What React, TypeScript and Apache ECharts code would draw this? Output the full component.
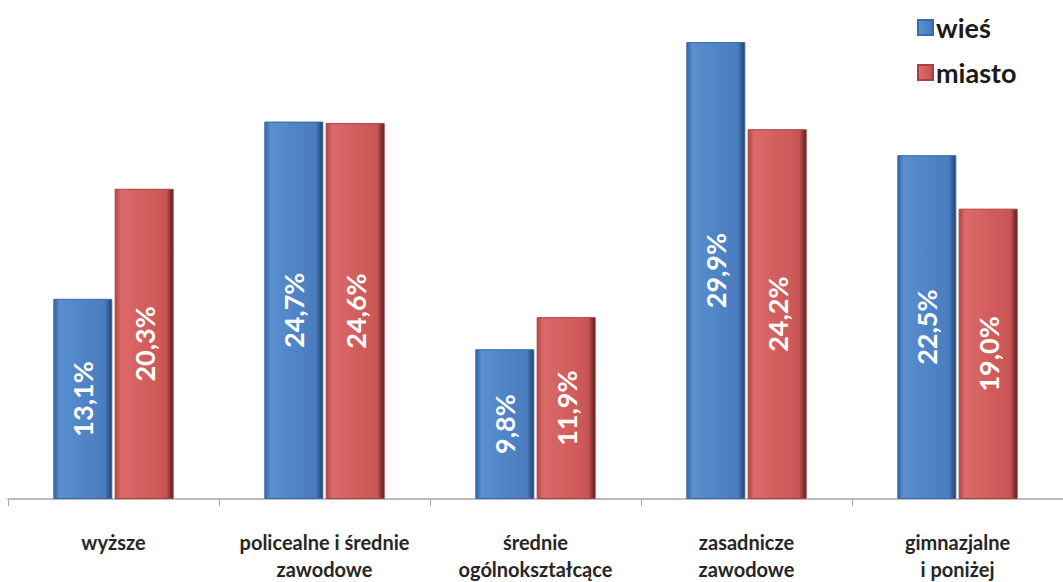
import React, { useEffect, useRef } from "react";
import * as echarts from "echarts";

const categories = [
  "wyższe",
  "policealne i średnie\nzawodowe",
  "średnie\nogólnokształcące",
  "zasadnicze\nzawodowe",
  "gimnazjalne\ni poniżej",
];
const wiesValues = [13.1, 24.7, 9.8, 29.9, 22.5];
const miastoValues = [20.3, 24.6, 11.9, 24.2, 19.0];
const seriesNames = ["wieś", "miasto"];

const fmt = (v: number) => v.toFixed(1).replace(".", ",") + "%";

const grad = (stops: [number, string][]) =>
  new echarts.graphic.LinearGradient(
    0,
    0,
    1,
    0,
    stops.map(([offset, color]) => ({ offset, color }))
  );

export default function App() {
  const ref = useRef<HTMLDivElement>(null);
  useEffect(() => {
    if (!ref.current) return;
    const chart = echarts.init(ref.current, null, { renderer: "svg" });
    const font = "Lato, 'Open Sans', sans-serif";
    const label = {
      show: true,
      position: "inside" as const,
      rotate: 90,
      color: "#ffffff",
      fontSize: 27,
      fontWeight: "bold" as const,
      fontFamily: font,
      formatter: (p: any) => fmt(p.value),
    };
    chart.setOption({
      animation: false,
      backgroundColor: "#ffffff",
      grid: { left: 8, right: -12, top: 10, bottom: 76, containLabel: false },
      legend: {
        orient: "vertical",
        left: 912,
        top: 9,
        itemWidth: 15,
        itemHeight: 15,
        itemGap: 18,
        icon: "rect",
        textStyle: {
          fontSize: 27,
          fontWeight: "bold",
          fontFamily: font,
          color: "#1a1a1a",
          padding: [0, 0, 0, -2],
        },
        data: seriesNames,
      },
      xAxis: {
        type: "category",
        data: categories,
        axisLine: { lineStyle: { color: "#a6a6a6", width: 1.5 } },
        axisTick: { show: true, length: 7, lineStyle: { color: "#a6a6a6" } },
        axisLabel: {
          interval: 0,
          margin: 29,
          fontSize: 20,
          fontWeight: "bold",
          fontFamily: font,
          color: "#262626",
          lineHeight: 27,
        },
      },
      yAxis: {
        type: "value",
        min: 0,
        max: 32,
        show: false,
        splitLine: { show: false },
      },
      series: [
        {
          name: seriesNames[0],
          type: "bar",
          data: wiesValues,
          barWidth: 59,
          barGap: "4%",
          label,
          itemStyle: {
            color: grad([
              [0, "#3465a6"],
              [0.1, "#5a8fd0"],
              [0.5, "#4f84c7"],
              [0.88, "#4a7dbf"],
              [1, "#243f6e"],
            ]),
            borderColor: "#3a6aa8",
            borderWidth: 1,
          },
        },
        {
          name: seriesNames[1],
          type: "bar",
          data: miastoValues,
          barWidth: 59,
          label,
          itemStyle: {
            color: grad([
              [0, "#b04444"],
              [0.1, "#dc6a6a"],
              [0.5, "#d35e5e"],
              [0.88, "#c95656"],
              [1, "#5a1c1c"],
            ]),
            borderColor: "#a84040",
            borderWidth: 1,
          },
        },
      ],
    });
    return () => chart.dispose();
  }, []);
  return (
    <div
      ref={ref}
      style={{ position: "fixed", left: 0, top: 0, width: 1063, height: 582 }}
    />
  );
}
